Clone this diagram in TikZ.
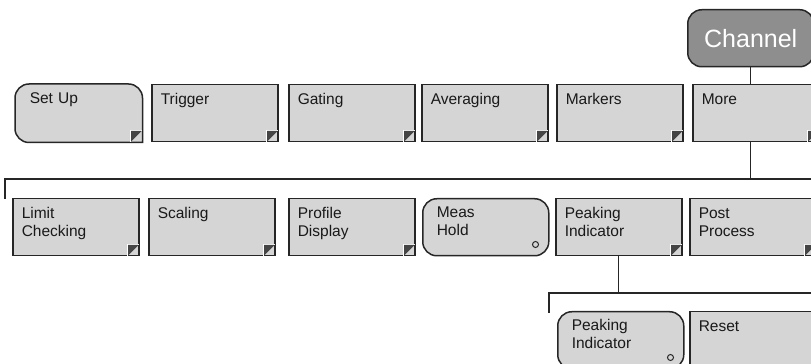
\documentclass[tikz,border=0pt]{standalone}
\usepackage{fontspec}
\setmainfont{Liberation Sans}
\usepackage{tikz}
\usetikzlibrary{backgrounds}
\usepackage{xcolor}
\definecolor{KeyGray}{HTML}{D5D5D5}
\definecolor{KeyLine}{HTML}{262626}
\definecolor{ChanGray}{HTML}{8E8E8E}
\definecolor{MarkDark}{HTML}{454545}
\newcommand{\submenumark}[1]{%
  \draw[white,line width=1pt] ([shift={(-12pt,0.8pt)}]#1.south east) |- ([shift={(-0.8pt,12pt)}]#1.south east);
  \fill[MarkDark] ([shift={(-11.5pt,11.5pt)}]#1.south east) -- ([shift={(-0.8pt,11.5pt)}]#1.south east) -- ([shift={(-11.5pt,0.8pt)}]#1.south east) -- cycle;}
\newcommand{\holdmark}[1]{%
  \draw[KeyLine,line width=1pt] ([shift={(-14pt,12pt)}]#1.south east) circle (3pt);}

\begin{document}
\begin{tikzpicture}[x=1pt,y=1pt,
  key/.style={draw=KeyLine,fill=KeyGray,line width=1.5pt,anchor=north west,text width=108pt,align=left,
    inner xsep=9pt,inner ysep=9pt,text height=11pt,text depth=28pt,font=\fontsize{15.5}{18}\selectfont,text=black!90},
  rkey/.style={key,rounded corners=14pt,text width=98pt,inner xsep=14pt,inner ysep=8pt,text depth=30pt},
  chan/.style={draw=KeyLine,fill=ChanGray,line width=1.5pt,rounded corners=14pt,minimum width=126pt,minimum height=57pt,
    anchor=north west,text=white,font=\fontsize{25}{30}\selectfont},
  link/.style={KeyLine,line width=1.2pt}]
\useasboundingbox (0,0) rectangle (811,364);
\clip (0,0) rectangle (811,364);
\node[chan] (chan) at (687,355) {Channel};
% top menu
\node[rkey,draw=none,fill=none] (setup) at (15,280) {Set Up};
\node[key] (trig) at (151,280) {Trigger};
\node[key] (gate) at (288,280) {Gating};
\node[key] (avg) at (421,280) {Averaging};
\node[key] (mark) at (556,280) {Markers};
\node[key] (more) at (692,280) {More};
% more menu
\node[key] (limit) at (12,166) {Limit\\Checking};
\node[key] (scale) at (148,166) {Scaling};
\node[key] (prof) at (288,166) {Profile\\Display};
\node[rkey] (hold) at (422,166) {Meas\\Hold};
\node[key] (peak) at (555,166) {Peaking\\Indicator};
\node[key] (post) at (689,166) {Post\\Process};
% peaking menu
\node[rkey] (peakind) at (557,53) {Peaking\\Indicator};
\node[key] (reset) at (689,53) {Reset};
\begin{pgfonlayer}{background}
\draw[KeyLine,fill=KeyGray,line width=1.5pt] (setup.south east) -- ([xshift=14pt]setup.south west)
  arc[start angle=270,end angle=180,radius=14pt] -- ([yshift=-14pt]setup.north west)
  arc[start angle=180,end angle=90,radius=14pt] -- ([xshift=-14pt]setup.north east)
  arc[start angle=90,end angle=0,radius=14pt] -- cycle;
\end{pgfonlayer}
\foreach \k in {setup,trig,gate,avg,mark,more,limit,scale,prof,peak,post} {\submenumark{\k}}
\holdmark{hold}
\holdmark{peakind}
% tree lines
\coordinate (busL) at (5,165);
\coordinate (busR) at (830,185);
\coordinate (bus2L) at (549,51);
\coordinate (bus2R) at (830,71);
\draw[link] (chan.south) -- (chan.south |- more.north);
\draw[link] (busL) |- (busR);
\draw[link] (chan.south |- more.south) -- (chan.south |- busR);
\draw[link] (bus2L) |- (bus2R);
\draw[link] (peak.south) -- (peak.south |- bus2R);
\end{tikzpicture}
\end{document}
